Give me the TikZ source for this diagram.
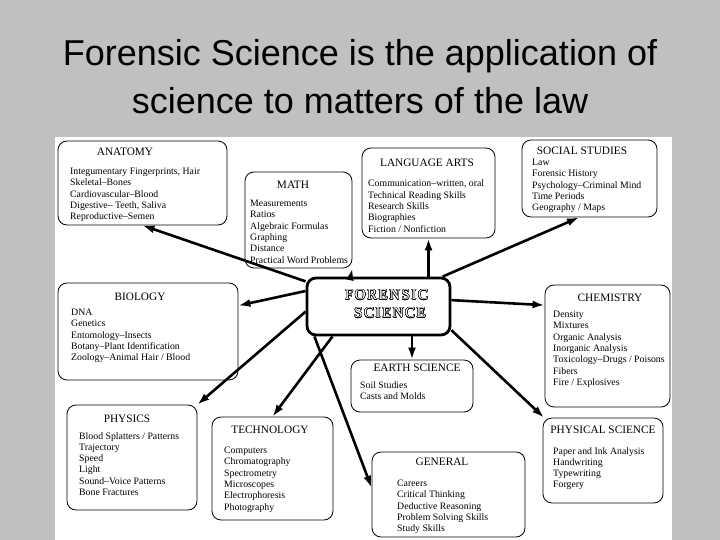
\documentclass[tikz,border=0pt]{standalone}
\usepackage{fontspec}
\setmainfont{Liberation Serif}
\newfontfamily\slidefont{Liberation Sans}
\newfontfamily\bannerfont[LetterSpace=10]{Liberation Serif}
\usepackage{contour}
\contourlength{0.45pt}
\usetikzlibrary{arrows.meta}
\definecolor{slidegray}{RGB}{192,192,192}

\begin{document}
\begin{tikzpicture}[x=1pt, y=-1pt,
  panel/.style={draw, fill=white, line width=0.8pt, rounded corners=9pt, inner sep=0pt},
  head/.style={inner sep=0pt, font=\fontsize{11.3}{13}\selectfont},
  list/.style={inner sep=0pt, anchor=north west, align=left, font=\fontsize{9.8}{11.3}\selectfont},
  link/.style={line width=2.6pt, -{Latex[length=12pt,width=8pt]}}]

  %% ════ slide ════
  \fill[slidegray] (0,0) rectangle (720,540);
  \fill[white] (55,137) rectangle (672,540);
  \node[anchor=base, inner sep=0pt, font=\slidefont\fontsize{36}{40}\selectfont] (title1) at (360,66) {Forensic Science is the application of};
  \node[anchor=base, inner sep=0pt, font=\slidefont\fontsize{36}{40}\selectfont] (title2) at (360,114) {science to matters of the law};

  %% ════ boxes ════
  \node[panel, line width=2.8pt, minimum width=143, minimum height=57] (fs) at (378.5,306.5) {};
  \node[panel, minimum width=169, minimum height=84]  (anatomy)  at (142.5,183) {};
  \node[panel, minimum width=107, minimum height=96]  (math)     at (298.5,220) {};
  \node[panel, minimum width=133, minimum height=90]  (lang)     at (428.5,193) {};
  \node[panel, minimum width=135, minimum height=77]  (social)   at (589.5,178.5) {};
  \node[panel, minimum width=180, minimum height=97]  (biology)  at (148,331.5) {};
  \node[panel, minimum width=125, minimum height=122] (chem)     at (607.5,346) {};
  \node[panel, minimum width=122, minimum height=52]  (earth)    at (412,386)   {};
  \node[panel, minimum width=130, minimum height=105] (physics)  at (132,457.5) {};
  \node[panel, minimum width=121, minimum height=103] (tech)     at (272.5,468.5) {};
  \node[panel, minimum width=153, minimum height=85]  (general)  at (448.5,494.5) {};
  \node[panel, minimum width=120, minimum height=85]  (physical) at (603,460.5) {};

  %% ════ centre title (outlined letters) ════
  \node[inner sep=0pt, font=\bannerfont\fontsize{15}{17}\selectfont, text=white] (fsword1) at (386.5,295) {\contour{black}{FORENSIC}};
  \node[inner sep=0pt, font=\bannerfont\fontsize{15}{17}\selectfont, text=white] (fsword2) at (390,313) {\contour{black}{SCIENCE}};

  %% ════ headings ════
  \node[head] (anatomyhead)  at (125,152) {ANATOMY};
  \node[head] (mathhead)     at (293,185) {MATH};
  \node[head] (langhead)     at (427,163) {LANGUAGE ARTS};
  \node[head] (socialhead)   at (582,150.5) {SOCIAL STUDIES};
  \node[head] (biologyhead)  at (140,297) {BIOLOGY};
  \node[head] (chemhead)     at (610,298) {CHEMISTRY};
  \node[head] (earthhead)    at (417,368) {EARTH SCIENCE};
  \node[head] (physicshead)  at (127,419) {PHYSICS};
  \node[head] (techhead)     at (270,430) {TECHNOLOGY};
  \node[head] (generalhead)  at (442,462) {GENERAL};
  \node[head] (physicalhead) at (603,430) {PHYSICAL SCIENCE};

  %% ════ lists ════
  \node[list] (anatomylist) at (70,168) {Integumentary Fingerprints, Hair\\Skeletal--Bones\\Cardiovascular--Blood\\Digestive-- Teeth, Saliva\\Reproductive--Semen};
  \node[list] (mathlist) at (250,200) {Measurements\\ Ratios\\Algebraic Formulas\\Graphing\\Distance\\Practical Word Problems};
  \node[list] (langlist) at (368,180) {Communication--written, oral\\Technical Reading Skills\\Research Skills\\Biographies\\Fiction / Nonfiction};
  \node[list] (sociallist) at (532,159) {Law\\Forensic History\\Psychology--Criminal Mind\\Time Periods\\Geography / Maps};
  \node[list] (biologylist) at (71,309) {DNA\\Genetics\\Entomology--Insects\\Botany--Plant Identification\\Zoology--Animal Hair / Blood};
  \node[list] (chemlist) at (553,311) {Density\\Mixtures\\Organic Analysis\\Inorganic Analysis\\Toxicology--Drugs / Poisons\\Fibers\\Fire / Explosives};
  \node[list] (earthlist) at (360,381) {Soil Studies\\Casts and Molds};
  \node[list] (physicslist) at (79,432) {Blood Splatters / Patterns\\Trajectory\\Speed\\Light\\Sound--Voice Patterns\\Bone Fractures};
  \node[list] (techlist) at (224,447) {Computers\\Chromatography\\Spectrometry\\Microscopes\\Electrophoresis\\Photography};
  \node[list] (generallist) at (397,480) {Careers\\Critical Thinking\\Deductive Reasoning\\Problem Solving Skills\\Study Skills};
  \node[list] (physicallist) at (553,447) {Paper and Ink Analysis\\Handwriting\\Typewriting\\Forgery};

  %% ════ arrows ════
  \draw[link] (fs.161) -- (anatomy.south);
  \draw[link] (fs.133) -- (math.south east);
  \draw[link] (fs.north -| lang.south) -- (lang.south);
  \draw[link] (fs.25) -- (social.255);
  \draw[link] (fs.168) -- (biology.16);
  \draw[link] (fs.5) -- (chem.147);
  \draw[link] (fs.south -| earth.north) -- (earth.north);
  \draw[link] (fs.184) -- (physics.north east);
  \draw[link] (fs.213) -- (tech.north);
  \draw[link] (fs.205) -- (general.175);
  \draw[link] (fs.-18) -- (physical.144);

  \pgfresetboundingbox
  \path[use as bounding box] (0,0) rectangle (720,540);
\end{tikzpicture}
\end{document}
